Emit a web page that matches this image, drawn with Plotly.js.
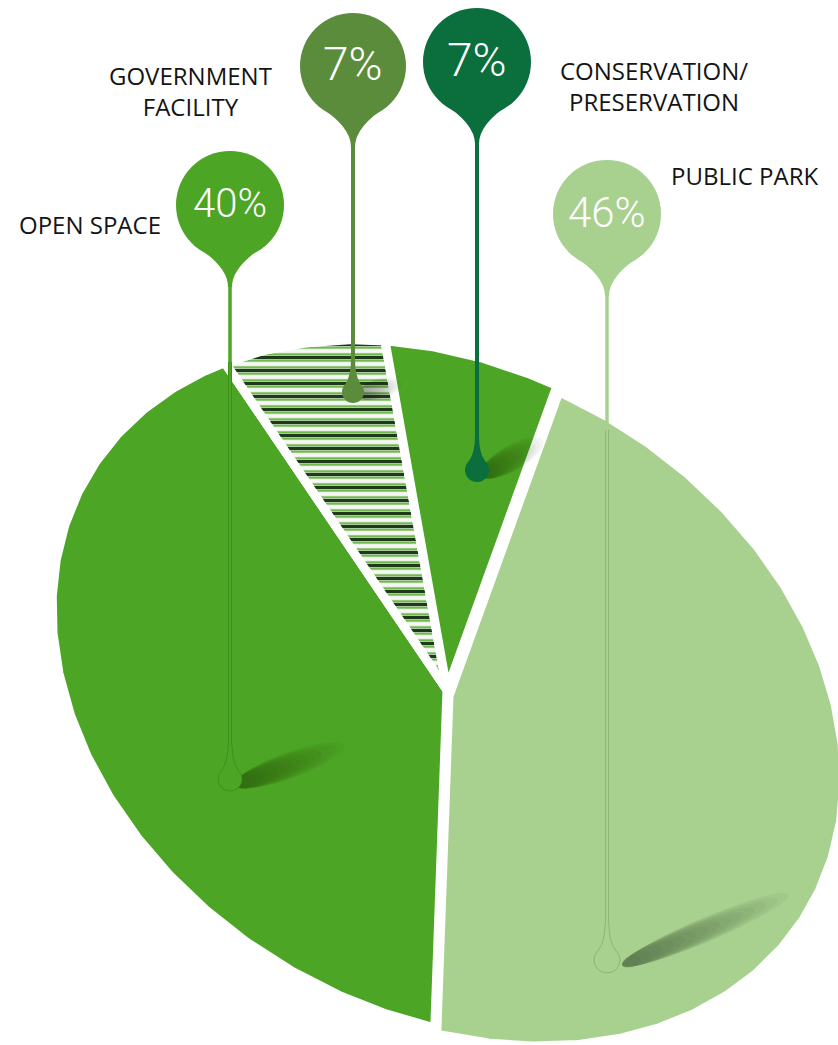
<!DOCTYPE html>
<html><head><meta charset="utf-8">
<script src="https://cdn.plot.ly/plotly-3.0.1.min.js"></script>
<style>html,body{margin:0;padding:0;background:#fff;} #chart{width:838px;height:1045px;}</style>
</head><body><div id="chart"></div>
<script>
// ---- data ----
const categories = ["OPEN SPACE", "GOVERNMENT FACILITY", "CONSERVATION/PRESERVATION", "PUBLIC PARK"];
const shares = [40, 7, 7, 46];
const pctLabels = ["40%", "7%", "7%", "46%"];
const labelTexts = ["OPEN SPACE", "GOVERNMENT<br>FACILITY", "CONSERVATION/<br>PRESERVATION", "PUBLIC PARK"];

// ---- styling ----
const sliceColors = ["#4ca525", "#f4f4f4", "#4ca525", "#a8d08f"];
const pinColors = ["#4ca525", "#5b8c3c", "#0a6e3d", "#a8d08f"];
const view = {cx: 447, cy: 690, a: 419, b: 321, tilt: 31.3, start: 66.8};
const sliceShift = [[0, 0], [0, 0], [0, 0], [2, 6]];
const pins = [
  {hx: 230, hy: 205, r: 54, dy: 779, dr: 12, outline: true, enter: 362, dark: "#3d911c", pctSize: 40},
  {hx: 353, hy: 66, r: 53, dy: 392, dr: 11, outline: false, pctSize: 46},
  {hx: 477, hy: 62, r: 54, dy: 470, dr: 12, outline: false, pctSize: 46},
  {hx: 607, hy: 214, r: 54, dy: 960, dr: 13, outline: true, enter: 430, dark: "#8bb874", pctSize: 42}
];
const labelPos = [
  {x: 90, y: 224, align: "center"},
  {x: 190, y: 91, align: "center"},
  {x: 654, y: 86, align: "center"},
  {x: 744, y: 175, align: "center"}
];

const D2R = Math.PI / 180;
function proj(tDeg) {
  const t = tDeg * D2R, th = view.tilt * D2R;
  const ct = Math.cos(t), st = Math.sin(t);
  return [view.cx + view.a * ct * Math.cos(th) - view.b * st * Math.sin(th),
          view.cy + view.a * ct * Math.sin(th) + view.b * st * Math.cos(th)];
}

const total = shares.reduce((p, c) => p + c, 0);
let cum = 0;
const traces = [];
shares.forEach((v, i) => {
  const t0 = view.start + 360 * cum / total;
  cum += v;
  const t1 = view.start + 360 * cum / total;
  const sx = sliceShift[i][0], sy = sliceShift[i][1];
  const xs = [view.cx + sx], ys = [view.cy + sy];
  const n = Math.max(20, Math.round((t1 - t0) * 4));
  for (let k = 0; k <= n; k++) {
    const p = proj(t0 + (t1 - t0) * k / n);
    xs.push(p[0] + sx); ys.push(p[1] + sy);
  }
  xs.push(view.cx + sx); ys.push(view.cy + sy);
  const base = {
    type: "scatter", mode: "lines", x: xs, y: ys, fill: "toself",
    fillcolor: sliceColors[i], line: {color: "#ffffff", width: 9},
    name: categories[i], text: categories[i] + ": " + pctLabels[i], hoverinfo: "text"
  };
  if (i === 1) {
    base.fillpattern = {shape: "-", fgcolor: "#5cb133", bgcolor: "#f6f6f6", size: 6.5, solidity: 0.3};
    traces.push(base);
    traces.push({
      type: "scatter", mode: "lines", x: xs, y: ys, fill: "toself",
      fillcolor: "rgba(0,0,0,0)", line: {color: "#ffffff", width: 9},
      fillpattern: {shape: "-", fgcolor: "#1f3a1a", bgcolor: "rgba(0,0,0,0)", size: 13, solidity: 0.25},
      hoverinfo: "skip", showlegend: false
    });
  } else {
    traces.push(base);
  }
});

// ---- decorations (pins, shadows) ----
const shapes = [];
function ellipsePath(cx, cy, rx, ry, rot) {
  const r = rot * D2R; let d = "";
  for (let k = 0; k <= 40; k++) {
    const t = 2 * Math.PI * k / 40;
    const ex = rx * Math.cos(t), ey = ry * Math.sin(t);
    const x = cx + ex * Math.cos(r) - ey * Math.sin(r);
    const y = cy + ex * Math.sin(r) + ey * Math.cos(r);
    d += (k === 0 ? "M" : "L") + x.toFixed(1) + "," + y.toFixed(1);
  }
  return d + "Z";
}
// soft shadow: stack of ellipses shrinking toward the dark end (x0,y0)
function shadow(x0, y0, len, ry, rot, color, op) {
  const L = 14;
  for (let k = 0; k < L; k++) {
    const s = 1 - k / L;
    const rx = len * 0.5 * s;
    const c = rot * D2R;
    const cx = x0 + rx * Math.cos(c), cy = y0 + rx * Math.sin(c);
    shapes.push({type: "path", xref: "x", yref: "y", path: ellipsePath(cx, cy, rx + 3, ry * (0.45 + 0.55 * s), rot),
      fillcolor: color, opacity: op, line: {width: 0}, layer: "above"});
  }
}
shadow(238, 784, 110, 13, -20, "#123008", 0.04);
shadow(625, 964, 175, 12, -23, "#1a3510", 0.042);
shadow(484, 474, 65, 13, -30, "#123008", 0.04);
shadow(360, 394, 40, 10, -15, "#2a2a2a", 0.03);

function circ(cx, cy, r, fill, line) {
  shapes.push({type: "circle", xref: "x", yref: "y", x0: cx - r, x1: cx + r, y0: cy - r, y1: cy + r,
    fillcolor: fill, line: line || {width: 0}, layer: "above"});
}
function neck(cx, cy, r, dir, len, w, fill, line) {
  const phi = 42 * D2R;
  const lx = cx - r * Math.sin(phi), rx = cx + r * Math.sin(phi);
  const ey = cy + dir * r * Math.cos(phi);
  const endY = cy + dir * (r + len);
  const cy1 = cy + dir * (r + len * 0.25);
  const p = "M" + lx + "," + ey + " Q" + (cx - w / 2) + "," + cy1 + " " + (cx - w / 2) + "," + endY +
    " L" + (cx + w / 2) + "," + endY + " Q" + (cx + w / 2) + "," + cy1 + " " + rx + "," + ey;
  shapes.push({type: "path", xref: "x", yref: "y", path: p, fillcolor: fill, line: line || {width: 0}, layer: "above"});
}
function vline(x, y0, y1, color, w) {
  shapes.push({type: "line", xref: "x", yref: "y", x0: x, x1: x, y0: y0, y1: y1, line: {color: color, width: w}, layer: "above"});
}

const annotations = [];
pins.forEach((p, i) => {
  const col = pinColors[i];
  const neckEnd = p.hy + p.r + 28;
  const dropTop = p.dy - p.dr - 22;
  if (p.outline) {
    vline(p.hx, neckEnd - 2, p.enter, col, 3.5);
    vline(p.hx, p.enter, dropTop + 2, p.dark, 4);
    vline(p.hx, p.enter, dropTop + 2, sliceColors[i], 2);
    circ(p.hx, p.dy, p.dr, sliceColors[i], {color: p.dark, width: 1});
    neck(p.hx, p.dy, p.dr, -1, 22, 4, sliceColors[i], {color: p.dark, width: 1});
    vline(p.hx, dropTop - 1, dropTop + 3, sliceColors[i], 2);
  } else {
    vline(p.hx, neckEnd - 2, dropTop + 2, col, 4);
    circ(p.hx, p.dy, p.dr, col);
    neck(p.hx, p.dy, p.dr, -1, 22, 4, col);
  }
  circ(p.hx, p.hy, p.r, col);
  neck(p.hx, p.hy, p.r, 1, 28, 4, col);
  annotations.push({x: p.hx, y: p.hy - 2, xref: "x", yref: "y", text: pctLabels[i], showarrow: false,
    xanchor: "center", yanchor: "middle",
    font: {family: "Roboto, 'Open Sans', sans-serif", size: p.pctSize, color: "#ffffff", weight: 300}});
});

labelTexts.forEach((t, i) => {
  annotations.push({x: labelPos[i].x, y: labelPos[i].y, xref: "x", yref: "y", text: t, showarrow: false,
    xanchor: "center", yanchor: "middle", align: labelPos[i].align,
    font: {family: "'Open Sans', sans-serif", size: 24, color: "#141414", weight: 500}});
});

const layout = {
  width: 838, height: 1045, margin: {l: 0, r: 0, t: 0, b: 0},
  paper_bgcolor: "#ffffff", plot_bgcolor: "#ffffff", showlegend: false,
  xaxis: {range: [0, 838], visible: false, fixedrange: true},
  yaxis: {range: [1045, 0], visible: false, fixedrange: true},
  shapes: shapes, annotations: annotations
};
Plotly.newPlot("chart", traces, layout, {displayModeBar: false, responsive: false});
</script>
</body></html>
